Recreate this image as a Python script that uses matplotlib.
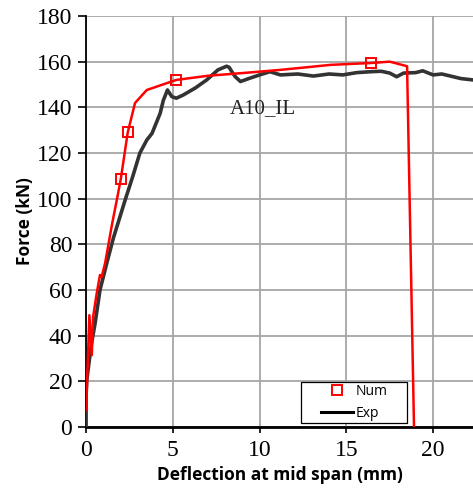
import matplotlib.pyplot as plt
from matplotlib.lines import Line2D
from matplotlib.patches import Rectangle

# numerical curve (red)
num_x = [0.0, 0.19, 0.33, 0.4, 0.6, 0.8, 0.9, 1.1, 1.5, 1.77, 2.0, 2.4, 2.82, 3.5,
         5.2, 7.0, 9.0, 11.2, 14.1, 16.4, 17.5, 18.5, 18.9]
num_y = [7.5, 49, 31.5, 48, 58, 66.6, 65.8, 72, 89, 99.4, 108.6, 129, 141.9, 147.6,
         152, 153.8, 155, 156.4, 158.6, 159.4, 160, 158, 0]
num_marks = [10, 11, 14, 19]

# experimental curve (black)
exp_x = [0.0, 0.0, 0.04, 0.3, 0.52, 0.8, 1.2, 1.57, 2.25, 2.7, 3.1, 3.5, 3.8, 4.27,
         4.45, 4.69, 4.94, 5.2, 5.6, 6.3, 6.95, 7.6, 8.1, 8.25, 8.4, 8.6, 8.9, 9.45,
         10.0, 10.6, 11.2, 12.2, 13.1, 14.0, 14.8, 15.6, 16.4, 17.0, 17.5, 17.9, 18.3,
         19.0, 19.4, 20.0, 20.5, 21.0, 21.6, 22.3]
exp_y = [0, 14, 20.6, 36, 45.5, 60, 72, 82.7, 99.4, 110, 120, 125.7, 128.6, 137.4,
         143, 147.6, 144.7, 144, 145.4, 148.5, 152, 156.4, 158, 157.5, 155.6, 153.4,
         151.3, 152.8, 154.2, 155.6, 154.2, 154.6, 153.7, 154.6, 154.2, 155.2, 155.6,
         155.8, 155, 153.4, 155, 155.2, 156, 154.2, 154.6, 153.7, 152.6, 152]

fig = plt.figure(figsize=(4.73, 4.99), dpi=100)
ax = fig.add_axes([0.182, 0.144, 0.818, 0.824])

ax.plot(exp_x, exp_y, color='#333333', lw=2.6, zorder=3)
ax.plot(num_x, num_y, color='#ff0000', lw=1.8, marker='s', markevery=num_marks,
        markersize=7, markerfacecolor='none', markeredgecolor='#ff0000',
        markeredgewidth=1.4, zorder=4)

ax.set_xlim(0, 22.3)
ax.set_ylim(0, 180)
ax.set_xticks([0, 5, 10, 15, 20])
ax.set_yticks(range(0, 181, 20))
ax.grid(True, color='#a6a6a6', lw=1.3)
ax.set_axisbelow(True)

for s in ['top', 'right']:
    ax.spines[s].set_visible(False)
ax.spines['left'].set_linewidth(1.3)
ax.spines['bottom'].set_linewidth(2)
ax.tick_params(axis='y', direction='out', length=6, width=1.2, labelsize=17, pad=4)
ax.tick_params(axis='x', direction='out', length=4.5, width=1.2, labelsize=17, pad=5)
for lab in ax.get_xticklabels() + ax.get_yticklabels():
    lab.set_family('Liberation Serif')

ax.set_xlabel('Deflection at mid span (mm)', fontsize=12.5, fontweight='bold',
              family='Open Sans', labelpad=3)
ax.set_ylabel('Force (kN)', fontsize=12.5, fontweight='bold', family='Open Sans',
              labelpad=2)

ax.text(10.2, 139.5, 'A10_IL', family='Liberation Serif', fontsize=15,
        color='#222222', ha='center', va='center')

# legend frame drawn separately so entries sit centred in a wider box
ax.add_patch(Rectangle((0.556, 0.01), 0.273, 0.1, transform=ax.transAxes,
                       facecolor='white', edgecolor='black', lw=0.9, zorder=5))
handles = [Line2D([], [], color='#ff0000', marker='s', ls='none', markersize=7,
                  markerfacecolor='none', markeredgewidth=1.4),
           Line2D([], [], color='black', lw=2.2)]
leg = ax.legend(handles, ['Num', 'Exp'], loc='center',
                bbox_to_anchor=(0.693, 0.06), frameon=False,
                prop={'family': 'Open Sans', 'size': 10}, handlelength=2.3,
                borderpad=0, labelspacing=0.45, handletextpad=0.2)
leg.set_zorder(6)

fig.savefig('out.png', dpi=100)
